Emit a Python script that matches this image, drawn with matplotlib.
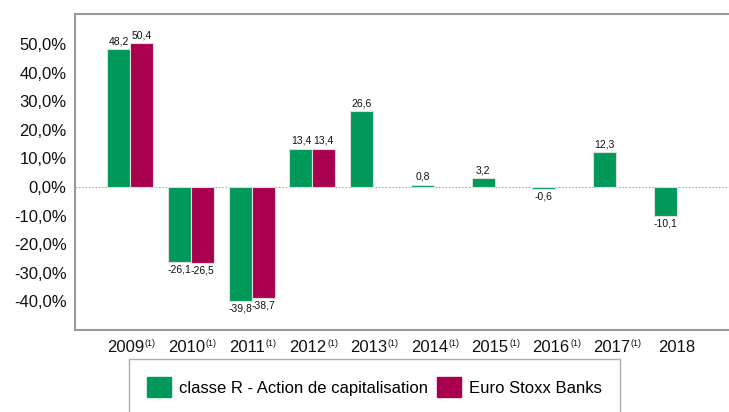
#
# plot.py
#

# Annual performance: classe R share vs Euro Stoxx Banks.

import numpy as np
import matplotlib
matplotlib.use("Agg")
from matplotlib import pyplot as plt

years = ['2009', '2010', '2011', '2012', '2013', '2014', '2015', '2016', '2017', '2018']
footnote = [True, True, True, True, True, True, True, True, True, False]
classe_r = [48.2, -26.1, -39.8, 13.4, 26.6, 0.8, 3.2, -0.6, 12.3, -10.1]
stoxx_banks = [50.4, -26.5, -38.7, 13.4, None, None, None, None, None, None]
y_ticks = [-40, -30, -20, -10, 0, 10, 20, 30, 40, 50]

GREEN = '#00995A'
MAGENTA = '#A8004F'

plt.rcParams['font.family'] = ['Liberation Sans', 'DejaVu Sans']


def fr(v: float) -> str:
    return f"{v:.1f}".replace('.', ',')


fig = plt.figure(figsize=(7.29, 4.12), dpi=100)
ax = fig.add_axes([75 / 729, 1 - 330 / 412, 657 / 729, 316 / 412])

x = np.arange(len(years))
w = 0.378

for i, v in enumerate(classe_r):
    ax.bar(x[i] - w / 2, v, width=w, color=GREEN, edgecolor='#dddddd', linewidth=0.8, zorder=3)
    ax.annotate(fr(v), (x[i] - w / 2, v), xytext=(0, 2 if v >= 0 else -2), textcoords='offset points',
                ha='center', va='bottom' if v >= 0 else 'top', fontsize=7.5, color='#111111')
for i, v in enumerate(stoxx_banks):
    if v is None:
        continue
    ax.bar(x[i] + w / 2, v, width=w, color=MAGENTA, edgecolor='#dddddd', linewidth=0.8, zorder=3)
    ax.annotate(fr(v), (x[i] + w / 2, v), xytext=(0, 2 if v >= 0 else -2), textcoords='offset points',
                ha='center', va='bottom' if v >= 0 else 'top', fontsize=7.5, color='#111111')

ax.axhline(0, color='#aaaaaa', linestyle=(0, (1.5, 1.5)), linewidth=0.8, zorder=2)

ax.set_xlim(-0.905, len(years) - 1 + 0.905)
ax.set_ylim(-50, 60.5)
ax.set_xticks(x)
ax.set_xticklabels([])
ax.set_yticks(y_ticks)
ax.set_yticklabels([fr(t) + '%' for t in y_ticks], fontsize=12)
ax.tick_params(axis='both', length=0, colors='#111111')
ax.tick_params(axis='y', pad=6)

# year labels, with the small (1) footnote mark after most of them
for i, (yr, f) in enumerate(zip(years, footnote)):
    t = ax.annotate(yr, (x[i], 0), xycoords=('data', 'axes fraction'),
                    xytext=(-3.3 if f else 0, -7.5), textcoords='offset points',
                    ha='center', va='top', fontsize=12, color='#111111', annotation_clip=False)
    if f:
        ax.annotate('(1)', (1.0, 1.0), xycoords=t, xytext=(0.5, 1.0), textcoords='offset points',
                    ha='left', va='top', fontsize=6.5, color='#111111', annotation_clip=False)

for s in ax.spines.values():
    s.set_color('#999999')
    s.set_linewidth(1.5)

handles = [plt.Rectangle((0, 0), 1, 1, color=GREEN), plt.Rectangle((0, 0), 1, 1, color=MAGENTA)]
leg = fig.legend(handles, ['classe R - Action de capitalisation', 'Euro Stoxx Banks'],
                 loc='upper center', bbox_to_anchor=(374.5 / 729, 1 - 359 / 412), ncol=2, fontsize=12,
                 frameon=True, fancybox=False, edgecolor='#999999', handlelength=1.44, handleheight=1.44,
                 handletextpad=0.48, columnspacing=0.54, borderpad=1.1, borderaxespad=0)
leg.get_frame().set_linewidth(1.0)

fig.savefig('out.png', dpi=100)
